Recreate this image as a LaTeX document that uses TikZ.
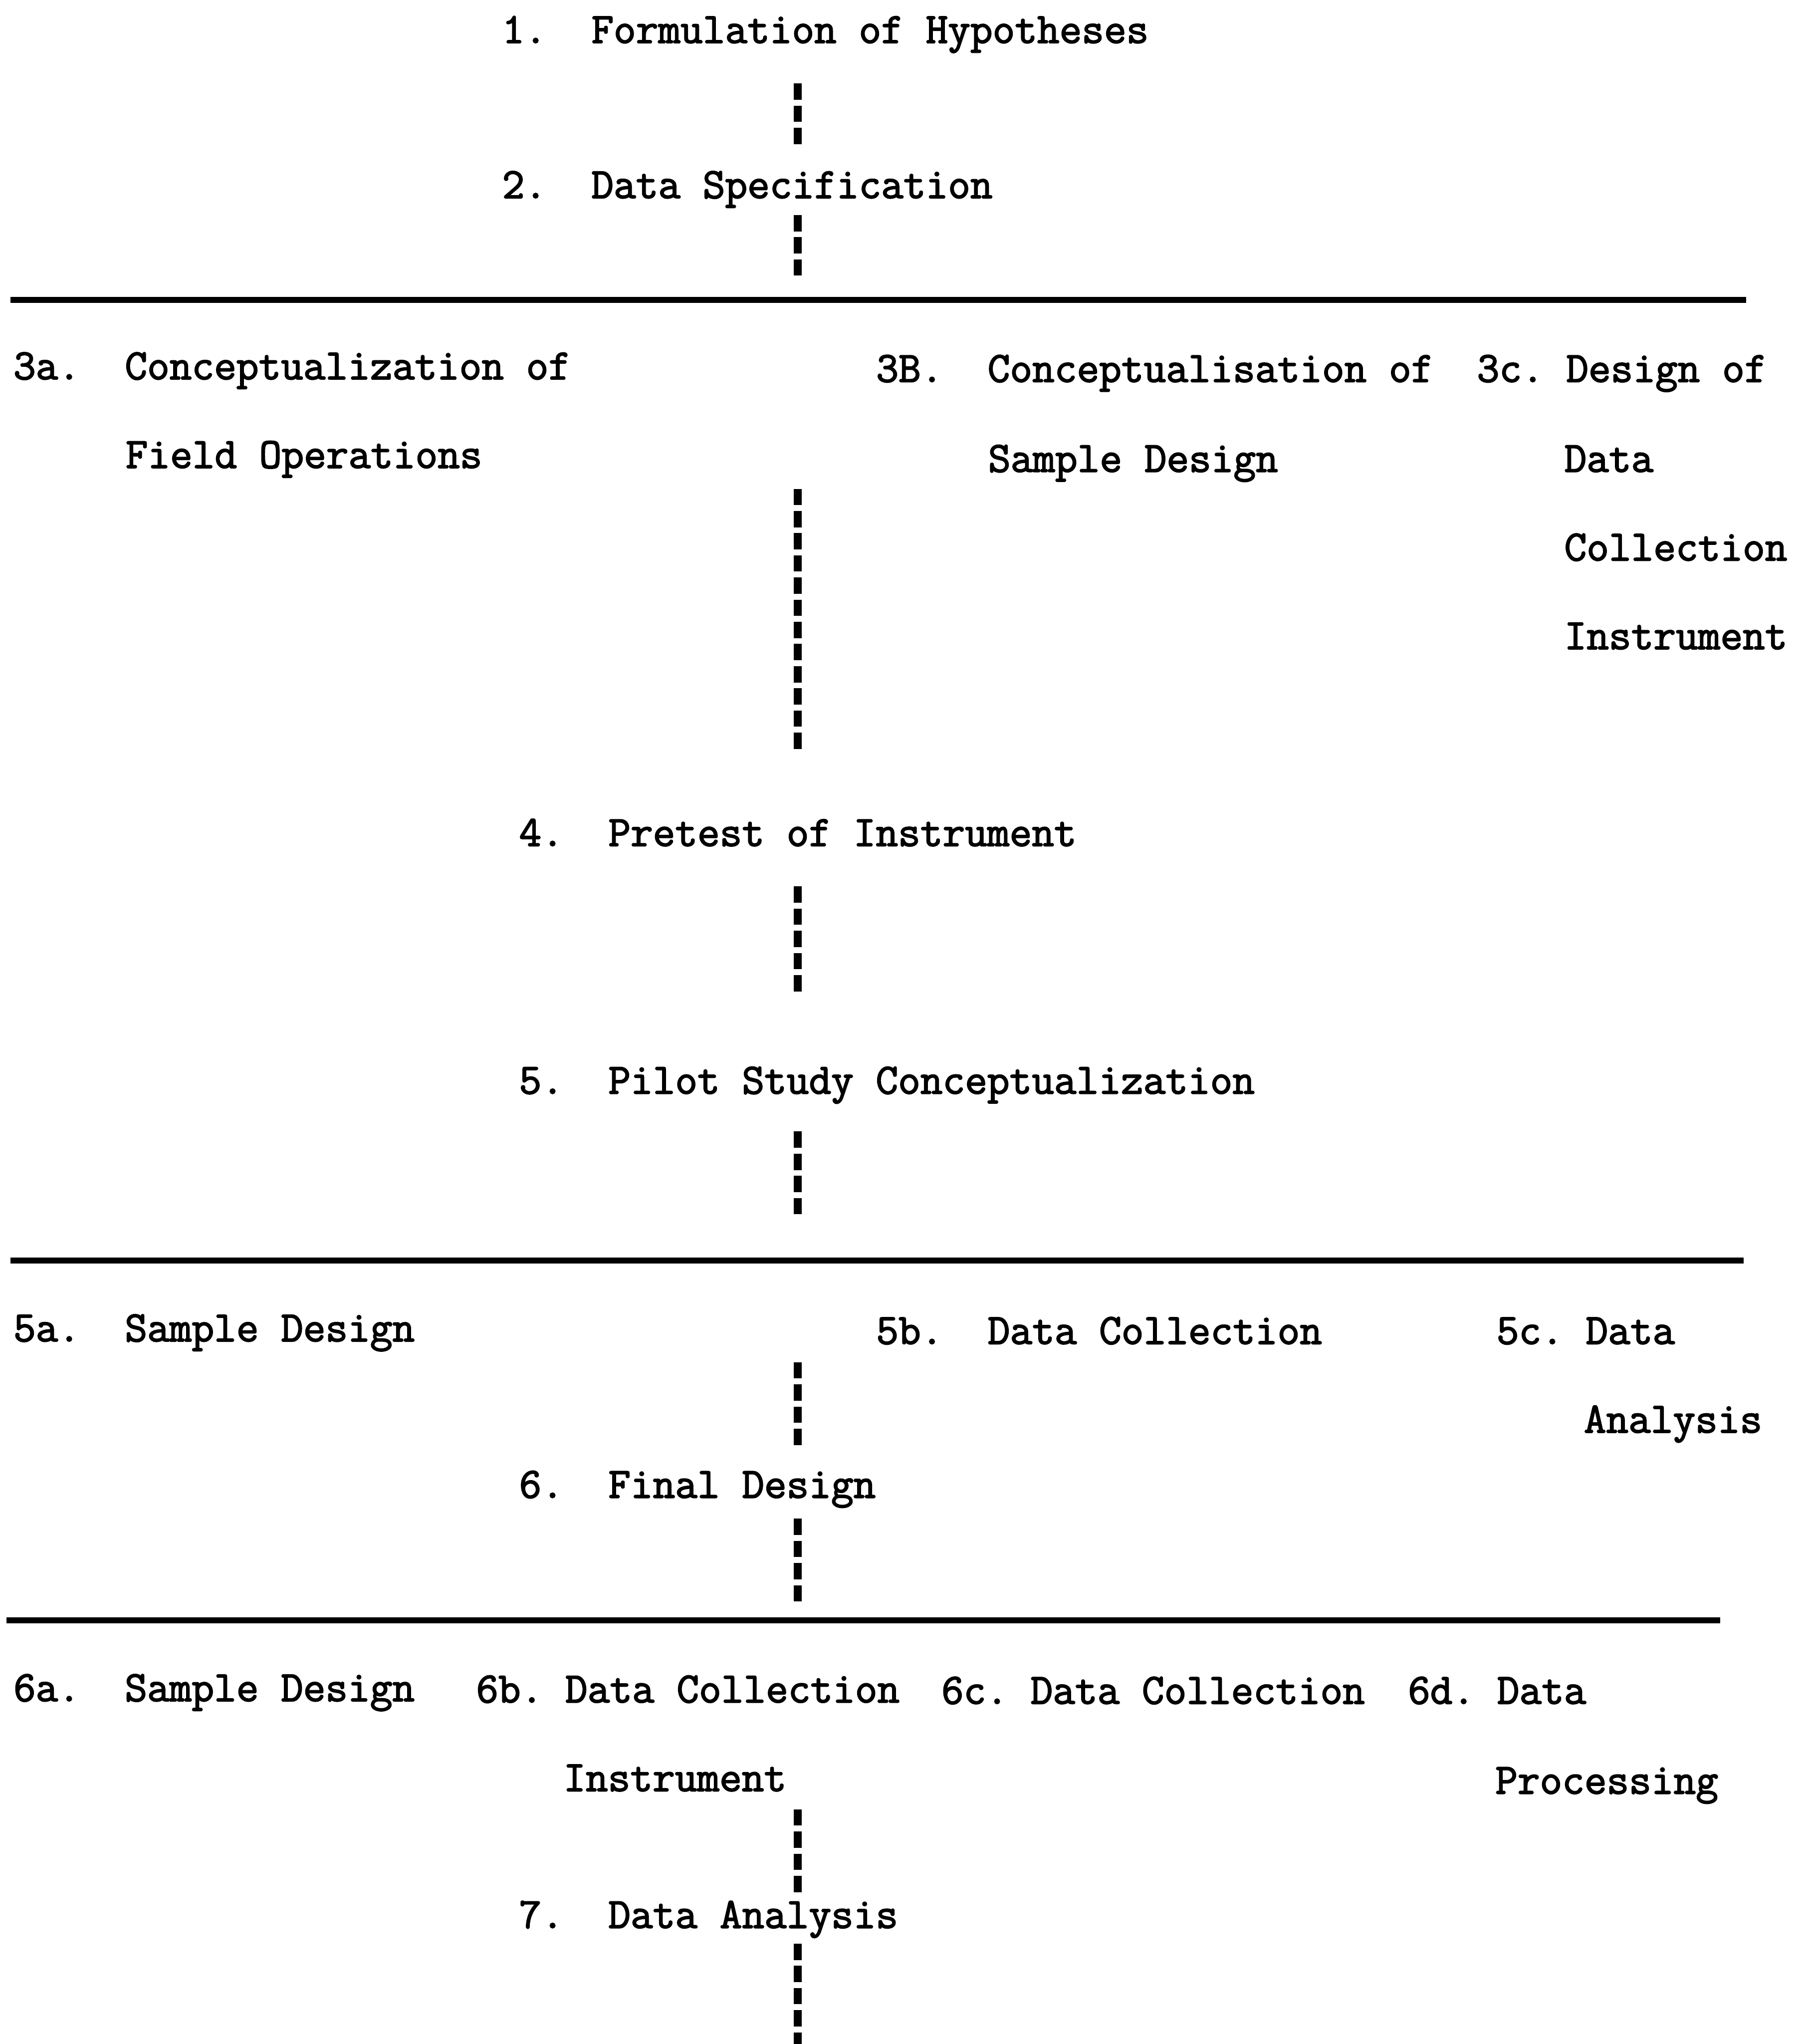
\documentclass[tikz,border=0pt]{standalone}
\usepackage{fontspec}
\setmonofont{Latin Modern Mono}[FakeBold=2.4]
\frenchspacing
\tikzset{
  typed/.style={anchor=base west, inner sep=0pt, font=\fontsize{18.9}{22}\selectfont\ttfamily},
  ticks/.style={line width=0.12cm, dash pattern=on 0.25cm off 0.09cm},
  rule/.style={line width=0.09cm}
}
\begin{document}
\begin{tikzpicture}
    \useasboundingbox (0,0) rectangle (27.74,-31.36);
    \coordinate (spine) at (12.24,0);

    % top steps
    \node[typed] (n1) at (7.70,-0.66) {1.\ \ Formulation of Hypotheses};
    \node[typed] (n2) at (7.70,-3.04) {2.\ \ Data Specification};

    % rules
    \coordinate (r1w) at (0.16,-4.60);
    \coordinate (r1e) at (26.80,-4.60);
    \coordinate (r2w) at (0.16,-19.34);
    \coordinate (r2e) at (26.76,-19.34);
    \coordinate (r3w) at (0.10,-24.86);
    \coordinate (r3e) at (26.40,-24.86);
    \draw[rule] (r1w) -- (r1e);
    \draw[rule] (r2w) -- (r2e);
    \draw[rule] (r3w) -- (r3e);

    % step 3
    \node[typed] (s3a) at (0.20,-5.82) {3a.\ \ Conceptualization of};
    \node[typed] (s3a2) at (1.92,-7.18) {Field Operations};
    \node[typed] (s3b) at (13.44,-5.86) {3B.\ \ Conceptualisation of};
    \node[typed] (s3b2) at (15.16,-7.24) {Sample Design};
    \node[typed] (s3c) at (22.66,-5.86) {3c.\ Design of};
    \node[typed] (s3c2) at (24.00,-7.24) {Data};
    \node[typed] (s3c3) at (24.00,-8.60) {Collection};
    \node[typed] (s3c4) at (24.00,-9.96) {Instrument};

    % steps 4 and 5
    \node[typed] (n4) at (7.96,-12.98) {4.\ \ Pretest of Instrument};
    \node[typed] (n5) at (7.96,-16.78) {5.\ \ Pilot Study Conceptualization};

    % step 5 parts
    \node[typed] (s5a) at (0.20,-20.58) {5a.\ \ Sample Design};
    \node[typed] (s5b) at (13.44,-20.62) {5b.\ \ Data Collection};
    \node[typed] (s5c) at (22.96,-20.62) {5c.\ Data};
    \node[typed] (s5c2) at (24.30,-21.98) {Analysis};
    \node[typed] (n6) at (7.96,-22.98) {6.\ \ Final Design};

    % step 6 parts
    \node[typed] (s6a) at (0.20,-26.10) {6a.\ \ Sample Design};
    \node[typed] (s6b) at (7.30,-26.12) {6b.\ Data Collection};
    \node[typed] (s6b2) at (8.64,-27.48) {Instrument};
    \node[typed] (s6c) at (14.44,-26.14) {6c.\ Data Collection};
    \node[typed] (s6d) at (21.60,-26.14) {6d.\ Data};
    \node[typed] (s6d2) at (22.94,-27.52) {Processing};
    \node[typed] (n7) at (7.96,-29.58) {7.\ \ Data Analysis};
    \coordinate (bottom) at (12.24,-31.60);

    % typed tick lines
    \draw[ticks, shorten <=0.62cm, shorten >=0.83cm] (n1.base -| spine) -- (n2.base -| spine);
    \draw[ticks, shorten <=0.26cm, shorten >=0.37cm] (n2.base -| spine) -- (r1w -| spine);
    \draw[ticks, shorten <=0.26cm, shorten >=1.49cm] (s3b2.base -| spine) -- (n4.base -| spine);
    \draw[ticks, shorten <=0.62cm, shorten >=1.57cm] (n4.base -| spine) -- (n5.base -| spine);
    \draw[ticks, shorten <=0.58cm, shorten >=0.71cm] (n5.base -| spine) -- (r2w -| spine);
    \draw[ticks, shorten <=0.28cm, shorten >=0.81cm] (s5b.base -| spine) -- (n6.base -| spine);
    \draw[ticks, shorten <=0.32cm, shorten >=0.29cm] (n6.base -| spine) -- (r3w -| spine);
    \draw[ticks, shorten <=0.28cm, shorten >=0.55cm] (s6b2.base -| spine) -- (n7.base -| spine);
    \draw[ticks, shorten <=0.24cm] (n7.base -| spine) -- (bottom);
\end{tikzpicture}
\end{document}
